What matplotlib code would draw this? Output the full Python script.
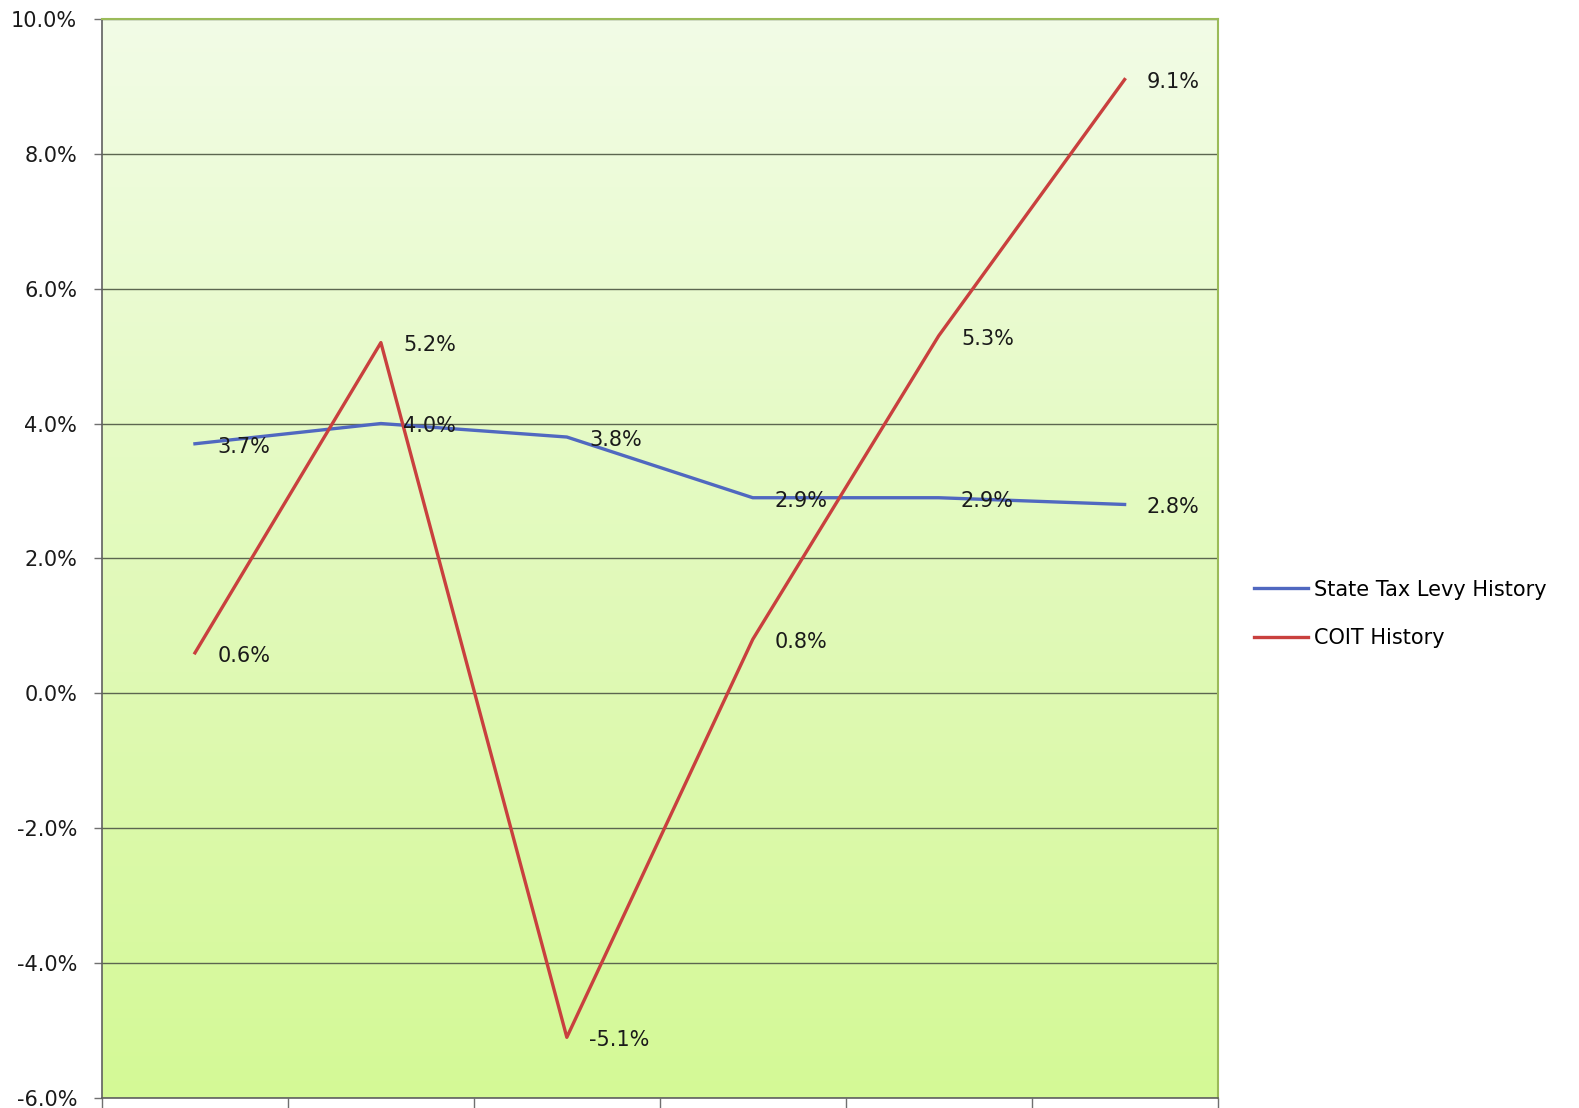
import numpy as np
import matplotlib
matplotlib.use("Agg")
import matplotlib.pyplot as plt
from matplotlib.colors import LinearSegmentedColormap
from matplotlib.ticker import FuncFormatter, MultipleLocator

# Year-over-year growth rates (percent) for six consecutive periods
periods = ["P1", "P2", "P3", "P4", "P5", "P6"]
state_tax_levy = [3.7, 4.0, 3.8, 2.9, 2.9, 2.8]
coit = [0.6, 5.2, -5.1, 0.8, 5.3, 9.1]
series_names = ["State Tax Levy History", "COIT History"]

plt.rcParams["font.family"] = ["DejaVu Sans"]

fig = plt.figure(figsize=(15.79, 11.08), dpi=100)
ax = fig.add_axes([0.0646, 0.009, 0.7065, 0.974])

x = np.arange(len(periods))
ax.set_xlim(-0.5, len(periods) - 0.5)
ax.set_ylim(-6, 10)

# soft vertical gradient fill behind the plot
grad = LinearSegmentedColormap.from_list("bg", ["#d4f996", "#e2fabc", "#f2fce6"])
ax.imshow(np.linspace(0, 1, 256).reshape(-1, 1), cmap=grad, aspect="auto",
          extent=(-0.5, len(periods) - 0.5, -6, 10), origin="lower", zorder=0)

ax.yaxis.set_major_locator(MultipleLocator(2))
ax.yaxis.set_major_formatter(FuncFormatter(lambda v, _: f"{v:.1f}%"))
ax.grid(axis="y", color="#5c6650", linewidth=1.0, zorder=1)

ax.set_xticks(np.arange(-0.5, len(periods)))
ax.set_xticklabels([])
ax.tick_params(axis="x", direction="out", length=10, color="#707070", width=1)
ax.tick_params(axis="y", direction="out", length=6, color="#707070", width=1,
               labelsize=15, labelcolor="#1a1a1a", pad=12)

for side in ("top", "right"):
    ax.spines[side].set_color("#9bbb59")
    ax.spines[side].set_linewidth(1.5)
for side in ("left", "bottom"):
    ax.spines[side].set_color("#606060")
    ax.spines[side].set_linewidth(1.2)

l1, = ax.plot(x, state_tax_levy, color="#5068c0", linewidth=2.4, zorder=3,
              label=series_names[0])
l2, = ax.plot(x, coit, color="#c9403e", linewidth=2.4, zorder=3,
              label=series_names[1])

for values in (state_tax_levy, coit):
    for xi, v in zip(x, values):
        ax.annotate(f"{v:.1f}%", (xi, v), xytext=(16, -2), textcoords="offset points",
                    ha="left", va="center", fontsize=15, color="#1a1a1a", zorder=4)

leg = fig.legend(handles=[l1, l2], loc="center left", bbox_to_anchor=(0.782, 0.446),
                 frameon=False, fontsize=15, handlelength=2.6, handletextpad=0.3,
                 labelspacing=1.35)

fig.savefig("out.png", dpi=100, facecolor="white")
